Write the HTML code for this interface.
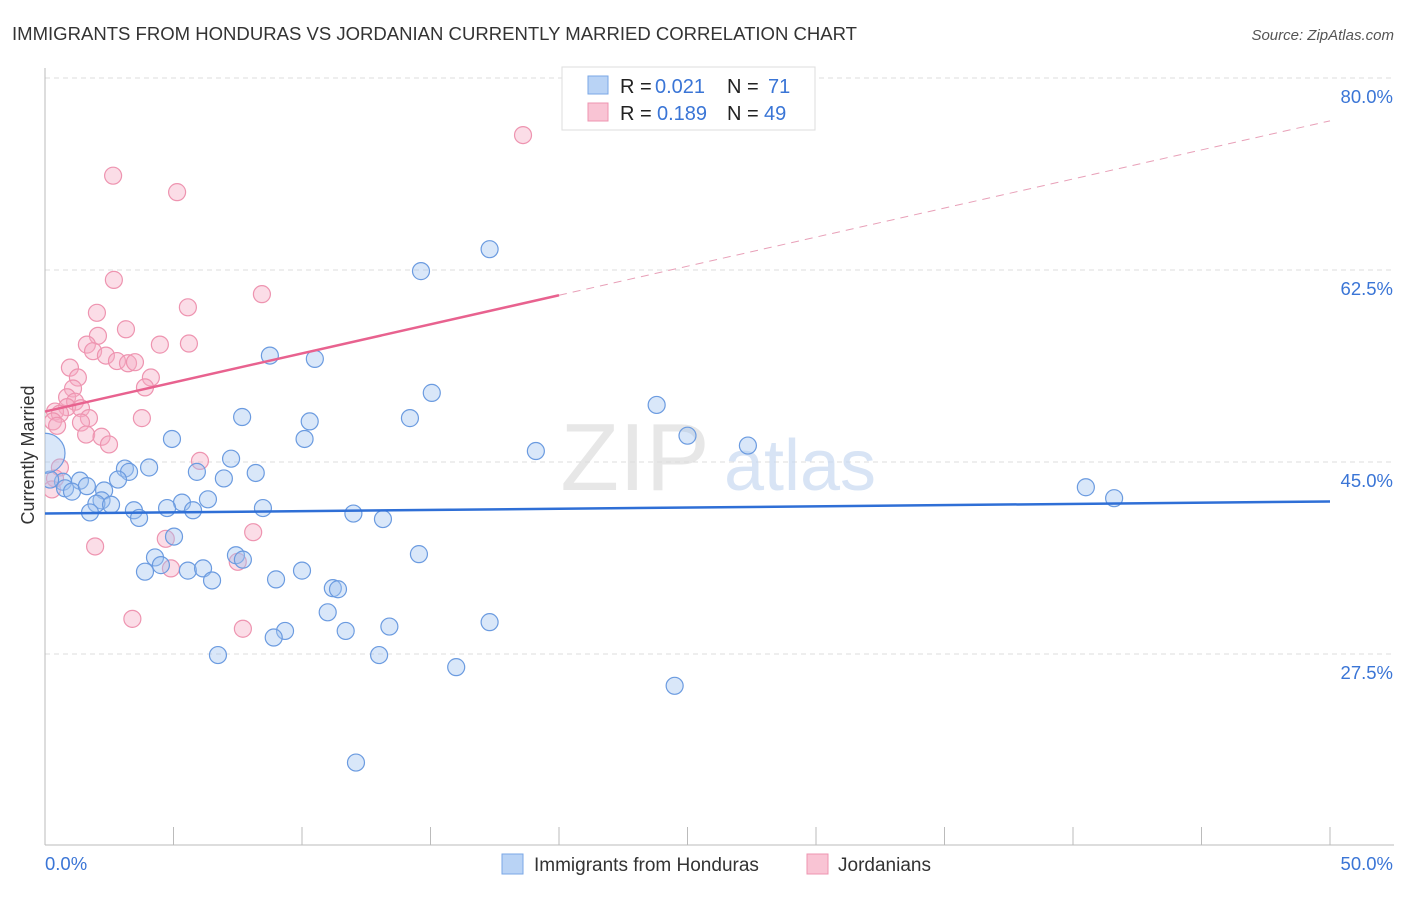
<!DOCTYPE html>
<html><head><meta charset="utf-8"><style>
body{margin:0;background:#fff;font-family:"Liberation Sans",sans-serif;}
svg text{font-family:"Liberation Sans",sans-serif;}
</style></head><body>
<svg id="chart" width="1406" height="892" xmlns="http://www.w3.org/2000/svg">
<defs><clipPath id="plotclip"><rect x="45" y="60" width="1360" height="790"/></clipPath></defs>
<text x="12" y="40" font-size="18" fill="#333" textLength="845" lengthAdjust="spacingAndGlyphs">IMMIGRANTS FROM HONDURAS VS JORDANIAN CURRENTLY MARRIED CORRELATION CHART</text>
<text x="1394" y="40" font-size="15" fill="#555" font-style="italic" text-anchor="end">Source: ZipAtlas.com</text>
<text x="34" y="455" font-size="18" fill="#333" transform="rotate(-90 34 455)" text-anchor="middle">Currently Married</text>
<g id="grid"></g>
<g id="watermark">
<text x="635" y="490" font-size="96" fill="#ddd" font-family="Liberation Serif" text-anchor="middle" opacity="0.7">ZIP</text>
<text x="800" y="490" font-size="72" fill="#c8daf2" text-anchor="middle" opacity="0.7">atlas</text>
</g>
<g id="points" clip-path="url(#plotclip)"></g>
<g id="lines"></g>
<g>
<rect x="562" y="67" width="253" height="63" fill="#fff" stroke="#ddd"/>
<rect x="588" y="76" width="20" height="18" fill="#b9d3f5" stroke="#7aa7e6"/>
<rect x="588" y="103" width="20" height="18" fill="#f9c4d4" stroke="#ee94b0"/>
<text x="620" y="93" font-size="20" fill="#222">R =</text>
<text x="655" y="93" font-size="20" fill="#3a75d6">0.021</text>
<text x="727" y="93" font-size="20" fill="#222">N =</text>
<text x="768" y="93" font-size="20" fill="#3a75d6">71</text>
<text x="620" y="120" font-size="20" fill="#222">R =</text>
<text x="657" y="120" font-size="20" fill="#3a75d6">0.189</text>
<text x="727" y="120" font-size="20" fill="#222">N =</text>
<text x="764" y="120" font-size="20" fill="#3a75d6">49</text>
</g>
<g>
<rect x="502" y="854" width="21" height="20" fill="#b9d3f5" stroke="#7aa7e6"/>
<text x="534" y="871" font-size="19" fill="#333">Immigrants from Honduras</text>
<rect x="807" y="854" width="21" height="20" fill="#f9c4d4" stroke="#ee94b0"/>
<text x="838" y="871" font-size="19" fill="#333">Jordanians</text>
</g>
</svg>
<script>
const xTicks=[0,5,10,15,20,25,30,35,40,45,50];
const yTicks=[27.5,45,62.5,80];
const yTickLabels=["27.5%","45.0%","62.5%","80.0%"];
const blueX=[14.63,17.3,8.75,10.5,15.05,23.8,7.67,10.3,14.2,4.94,10.1,25.0,27.35,19.1,7.24,4.05,3.11,3.27,5.91,8.2,6.96,2.84,1.36,0.7,0.78,1.05,1.63,2.3,2.2,2.0,2.57,6.34,5.33,4.75,5.76,3.46,1.75,3.66,8.48,12.0,13.15,40.5,41.6,5.02,4.28,7.43,7.7,14.55,4.51,3.89,5.56,6.15,6.5,8.99,10.0,11.2,11.4,11.0,17.3,13.4,9.34,8.9,11.7,6.73,13.0,16.0,24.5,12.1,0.2,0.0];
const blueY=[62.4,64.4,54.7,54.4,51.3,50.2,49.1,48.7,49.0,47.1,47.1,47.4,46.5,46.0,45.3,44.5,44.4,44.1,44.1,44.0,43.5,43.4,43.3,43.2,42.6,42.3,42.8,42.4,41.5,41.2,41.1,41.6,41.3,40.8,40.6,40.6,40.4,39.9,40.8,40.3,39.8,42.7,41.7,38.2,36.3,36.5,36.1,36.6,35.6,35.0,35.1,35.3,34.2,34.3,35.1,33.5,33.4,31.3,30.4,30.0,29.6,29.0,29.6,27.4,27.4,26.3,24.6,17.6,43.4,45.8];
const pinkX=[18.6,2.65,5.14,2.68,8.44,5.56,2.02,3.15,2.06,1.63,4.47,5.6,1.87,2.37,2.8,3.23,3.5,0.97,1.28,4.12,3.89,1.09,0.86,1.17,0.86,1.4,0.39,0.58,1.71,3.77,1.4,0.31,0.47,1.6,2.2,2.49,6.03,0.58,0.39,0.27,4.7,1.95,8.1,7.5,4.9,3.4,7.7];
const pinkY=[74.8,71.1,69.6,61.6,60.3,59.1,58.6,57.1,56.5,55.7,55.7,55.8,55.1,54.7,54.2,54.0,54.1,53.6,52.7,52.7,51.8,51.7,50.9,50.5,50.0,49.9,49.6,49.4,49.0,49.0,48.6,48.7,48.3,47.5,47.3,46.6,45.1,44.5,43.5,42.5,38.0,37.3,38.6,35.9,35.3,30.7,29.8];
const blueLine=[40.3,41.4];
const pinkLine=[49.6,76.1];
const NS="http://www.w3.org/2000/svg";
function sx(v){return 45+v/50*1285;}
function sy(v){return 462-(v-45)*10.97;}
function mk(tag,attrs,parent){const e=document.createElementNS(NS,tag);for(const k in attrs)e.setAttribute(k,attrs[k]);parent.appendChild(e);return e;}
const grid=document.getElementById('grid');
yTicks.forEach((t,i)=>{
 const l=mk('line',{x1:45,x2:1394,y1:sy(t),y2:sy(t),stroke:'#ddd','stroke-dasharray':'5,4'},grid);
 
 
 const tx=mk('text',{x:1393,y:sy(t)+25,'font-size':18.5,fill:'#3a75d6','text-anchor':'end'},grid);
 tx.textContent=yTickLabels[i];
 
 
});
const ax=mk('line',{x1:45,x2:45,y1:68,y2:845,stroke:'#bbb'},grid);


const bx=mk('line',{x1:45,x2:1394,y1:845,y2:845,stroke:'#bbb'},grid);


xTicks.forEach(t=>{
 const l=mk('line',{x1:sx(t),x2:sx(t),y1:827,y2:845,stroke:'#bbb'},grid);
 
 
});
const xl0=mk('text',{x:45,y:870,'font-size':18.5,fill:'#3a75d6'},grid);xl0.textContent=xTicks[0].toFixed(1)+'%';


const xl1=mk('text',{x:1393,y:870,'font-size':18.5,fill:'#3a75d6','text-anchor':'end'},grid);xl1.textContent=xTicks[xTicks.length-1].toFixed(1)+'%';


const pts=document.getElementById('points');
pinkX.forEach((x,i)=>{
 const c=mk('circle',{cx:sx(x),cy:sy(pinkY[i]),r:8.5,fill:'rgba(246,170,195,0.4)',stroke:'#ee94b0','stroke-width':1.2},pts);
 
 
});
blueX.forEach((x,i)=>{
 const c=mk('circle',{cx:sx(x),cy:sy(blueY[i]),r:i===blueX.length-1?20:8.5,fill:'rgba(160,196,240,0.4)',stroke:'#6b9be0','stroke-width':1.2},pts);
 
 
});
const ln=document.getElementById('lines');
const b=mk('line',{x1:sx(0),y1:sy(blueLine[0]),x2:sx(50),y2:sy(blueLine[1]),stroke:'#2f6fd6','stroke-width':2.5},ln);


const pAt=v=>pinkLine[0]+(pinkLine[1]-pinkLine[0])*v/50;
const p1=mk('line',{x1:sx(0),y1:sy(pAt(0)),x2:sx(20),y2:sy(pAt(20)),stroke:'#e8628f','stroke-width':2.5},ln);


const p2=mk('line',{x1:sx(20),y1:sy(pAt(20)),x2:sx(50),y2:sy(pAt(50)),stroke:'#e8a0b8','stroke-width':1,'stroke-dasharray':'8,6'},ln);


</script>
</body></html>
